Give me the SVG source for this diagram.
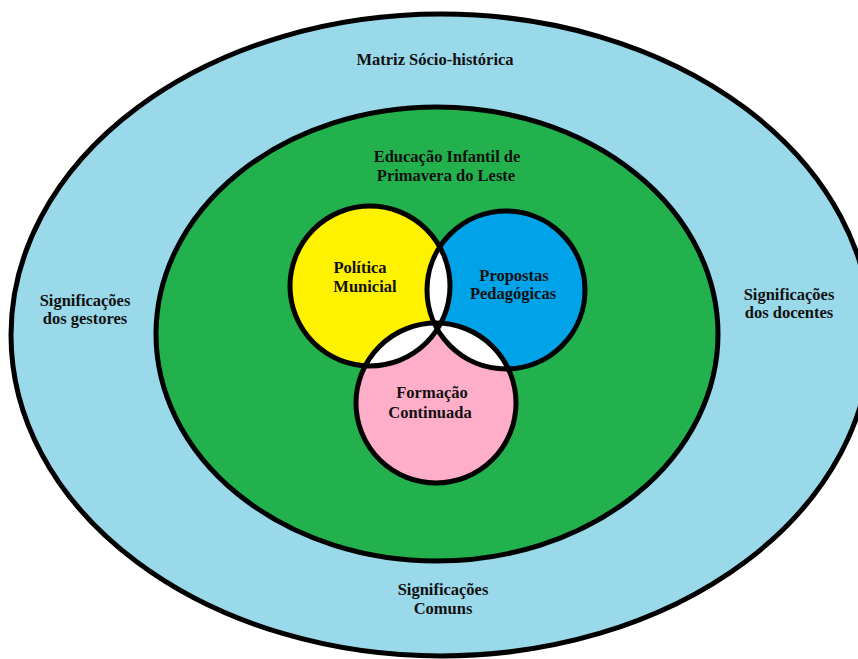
<svg xmlns="http://www.w3.org/2000/svg" width="858" height="659" viewBox="0 0 858 659">
<style>
.ring{stroke:#000;stroke-width:5}
.t{font-family:"Liberation Serif","Times New Roman",serif;font-weight:bold;font-size:16.5px;fill:#111;text-anchor:middle}
.c{stroke:#000;stroke-width:5;fill:none}
</style>
<defs>
<clipPath id="cb"><circle cx="506" cy="290" r="79"/></clipPath>
<clipPath id="cp"><circle cx="436" cy="403" r="80"/></clipPath>
</defs>
<rect width="858" height="659" fill="#fff"/>
<g id="outer">
<ellipse class="ring" cx="441" cy="335" rx="430" ry="321" fill="#99D9EA"/>
<text class="t" x="435" y="65">Matriz Sócio-histórica</text>
<text class="t" x="85" y="306">Significações</text>
<text class="t" x="85" y="324">dos gestores</text>
<text class="t" x="789" y="300">Significações</text>
<text class="t" x="789" y="318">dos docentes</text>
<text class="t" x="443" y="595">Significações</text>
<text class="t" x="443" y="614">Comuns</text>
</g>
<g id="inner">
<ellipse class="ring" cx="437" cy="334" rx="281" ry="227" fill="#22B14C"/>
<text class="t" x="447" y="162">Educação Infantil de</text>
<text class="t" x="446" y="181">Primavera do Leste</text>
</g>
<g id="politica">
<circle cx="370" cy="286" r="80" fill="#FFF200"/>
</g>
<g id="propostas">
<circle cx="506" cy="290" r="79" fill="#00A2E8"/>
</g>
<g id="formacao">
<circle cx="436" cy="403" r="80" fill="#FFAEC9"/>
</g>
<g id="overlaps">
<circle cx="370" cy="286" r="80" fill="#fff" clip-path="url(#cb)"/>
<circle cx="370" cy="286" r="80" fill="#fff" clip-path="url(#cp)"/>
<circle cx="506" cy="290" r="79" fill="#fff" clip-path="url(#cp)"/>
</g>
<g id="outlines">
<circle class="c" cx="370" cy="286" r="80"/>
<circle class="c" cx="506" cy="290" r="79"/>
<circle class="c" cx="436" cy="403" r="80"/>
</g>
<g id="labels">
<text class="t" x="360" y="273">Política</text>
<text class="t" x="365" y="292">Municial</text>
<text class="t" x="514" y="281">Propostas</text>
<text class="t" x="513" y="299">Pedagógicas</text>
<text class="t" x="432" y="398">Formação</text>
<text class="t" x="430" y="418">Continuada</text>
</g>
</svg>
